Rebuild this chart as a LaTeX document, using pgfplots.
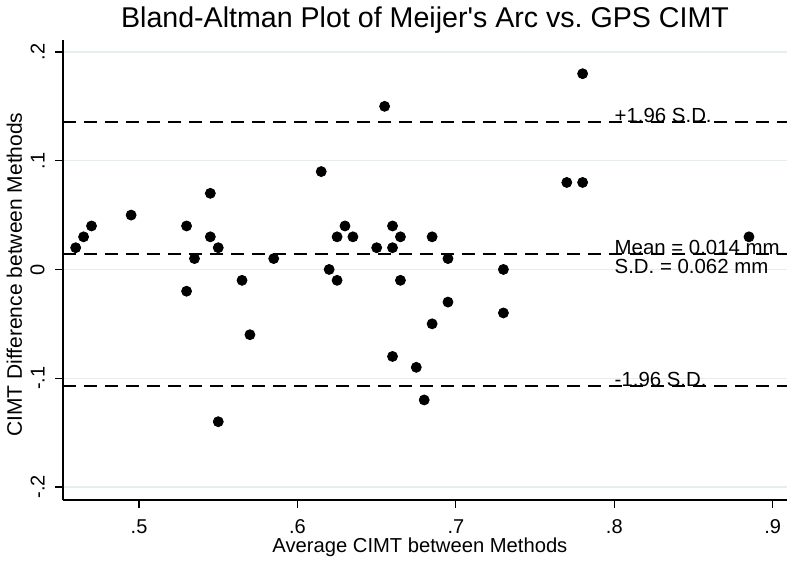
\documentclass[border=0pt]{standalone}
\usepackage{pgfplots}
\pgfplotsset{compat=1.18}
\usepackage{fontspec}
\setmainfont{Liberation Sans}
\definecolor{gridc}{RGB}{228,238,238}
\pgfplotstableread{
x y
0.460 0.02
0.465 0.03
0.470 0.04
0.495 0.05
0.530 0.04
0.535 0.01
0.530 -0.02
0.545 0.07
0.545 0.03
0.550 0.02
0.550 -0.14
0.565 -0.01
0.570 -0.06
0.585 0.01
0.615 0.09
0.620 0.00
0.625 0.03
0.625 -0.01
0.630 0.04
0.635 0.03
0.650 0.02
0.655 0.15
0.660 0.04
0.660 0.02
0.660 -0.08
0.665 0.03
0.665 -0.01
0.675 -0.09
0.680 -0.12
0.685 0.03
0.685 -0.05
0.695 0.01
0.695 -0.03
0.730 0.00
0.730 -0.04
0.770 0.08
0.780 0.08
0.780 0.18
0.885 0.03
}\pts
\begin{document}
\begin{tikzpicture}
\path[use as bounding box] (-31.5pt,-31pt) rectangle (367pt,250pt);
\begin{axis}[
 scale only axis, width=362pt, height=230pt,
 at={(0,0)}, anchor=south west,
 xmin=0.452, xmax=0.909, ymin=-0.212, ymax=0.211,
 axis lines=left,
 axis line style={black, line width=0.6pt, -},
 xtick={0.5,0.6,0.7,0.8,0.9}, xticklabels={.5,.6,.7,.8,.9},
 ytick={-0.2,-0.1,0,0.1,0.2}, yticklabels={-.2,-.1,0,.1,.2},
 tick align=outside, major tick length=4pt,
 tick style={black, line width=0.6pt},
 ymajorgrids, major grid style={gridc, line width=0.7pt},
 ticklabel style={font=\fontsize{10}{12}\selectfont},
 xticklabel style={anchor=north, inner sep=0pt},
 xticklabel shift=5.5pt,
 yticklabel style={rotate=90, anchor=south, inner sep=0pt},
 yticklabel shift=5pt,
 every axis title shift=0pt,
 title={Bland-Altman Plot of Meijer\textquotesingle s Arc vs.\ GPS CIMT},
 title style={at={([yshift=6pt]axis description cs:0.5,1)}, anchor=base, font=\fontsize{14.3}{16}\selectfont, inner sep=0pt},
 xlabel={Average CIMT between Methods},
 ylabel={CIMT Difference between Methods},
 every axis x label/.style={at={([yshift=-26pt]axis description cs:0.493,0)}, anchor=base, font=\fontsize{10.1}{12}\selectfont, inner sep=0pt},
 every axis y label/.style={at={([xshift=-20.5pt]axis description cs:0,0.49)}, rotate=90, anchor=base, font=\fontsize{10.5}{12}\selectfont, inner sep=0pt},
]
\addplot[black, line width=0.9pt, dash pattern=on 6.5pt off 4pt] coordinates {(0.452,0.1355) (0.909,0.1355)};
\addplot[black, line width=0.9pt, dash pattern=on 6.5pt off 4pt] coordinates {(0.452,0.014) (0.909,0.014)};
\addplot[black, line width=0.9pt, dash pattern=on 6.5pt off 4pt] coordinates {(0.452,-0.1075) (0.909,-0.1075)};
\addplot[only marks, mark=*, mark size=2.5pt, black] table[x=x,y=y] {\pts};
\node[anchor=base west, inner sep=0pt, font=\fontsize{10.2}{12}\selectfont] at (axis cs:0.8,0.1355) {+1.96 S.D.};
\node[anchor=base west, inner sep=0pt, font=\fontsize{10.2}{12}\selectfont] at (axis cs:0.8,0.014) {Mean = 0.014 mm};
\node[anchor=base west, inner sep=0pt, font=\fontsize{10.2}{12}\selectfont] at ([yshift=-9.5pt]axis cs:0.8,0.014) {S.D. = 0.062 mm};
\node[anchor=base west, inner sep=0pt, font=\fontsize{10.2}{12}\selectfont] at (axis cs:0.8,-0.1075) {-1.96 S.D.};
\end{axis}
\end{tikzpicture}
\end{document}
